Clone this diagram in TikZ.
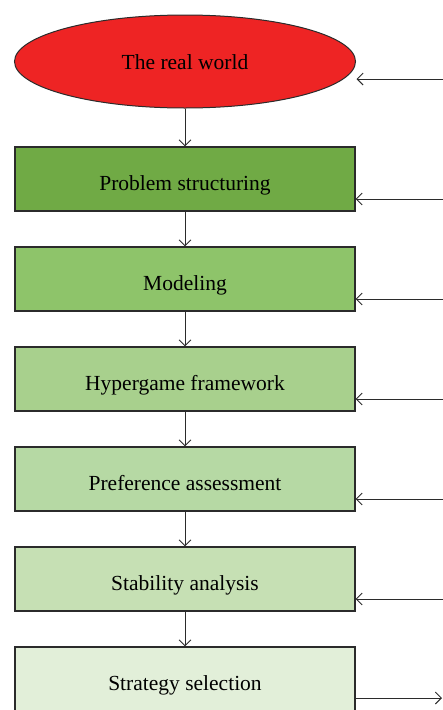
\documentclass[tikz,border=0pt]{standalone}
\usepackage{fontspec}
\setmainfont{Liberation Serif}
\usetikzlibrary{arrows.meta,shapes.geometric}
\definecolor{cred}{HTML}{EE2424}
\definecolor{cA}{HTML}{70AA45}
\definecolor{cB}{HTML}{8EC46A}
\definecolor{cC}{HTML}{A8D08D}
\definecolor{cD}{HTML}{B6D9A4}
\definecolor{cE}{HTML}{C6E0B4}
\definecolor{cF}{HTML}{E2EFD9}
\definecolor{cline}{HTML}{2B2B2B}
\begin{document}
\begin{tikzpicture}[x=1pt,y=-1pt,
  stagebox/.style={draw=cline,line width=1.1pt,minimum width=340pt,minimum height=64pt,inner sep=0pt,font=\fontsize{21.5}{24}\selectfont,text height=37pt,text depth=15pt},
  flow/.style={draw=cline,line width=0.9pt,-{Straight Barb[length=6pt,width=12pt]}}]
\useasboundingbox (0,0) rectangle (443,710);
\node[ellipse,draw=cline,line width=1pt,fill=cred,minimum width=341pt,minimum height=93pt,inner sep=0pt,font=\fontsize{21.5}{24}\selectfont,text height=30pt,text depth=15pt] (w) at (185,61.5) {The real world};
\node[stagebox,fill=cA] (b1) at (185,179) {Problem structuring};
\node[stagebox,fill=cB] (b2) at (185,279) {Modeling};
\node[stagebox,fill=cC] (b3) at (185,379) {Hypergame framework};
\node[stagebox,fill=cD] (b4) at (185,479) {Preference assessment};
\node[stagebox,fill=cE] (b5) at (185,579) {Stability analysis};
\node[stagebox,fill=cF] (b6) at (185,679) {Strategy selection};
\draw[flow] (w.south) -- (b1.north);
\draw[flow] (b1) -- (b2);
\draw[flow] (b2) -- (b3);
\draw[flow] (b3) -- (b4);
\draw[flow] (b4) -- (b5);
\draw[flow] (b5) -- (b6);
\coordinate (r0) at (443,79);
\coordinate (t0) at (356.5,79);
\draw[flow] (r0) -- (t0);
\foreach \i in {1,...,5}{
  \coordinate (r\i) at (443,{100*\i+99});
  \draw[flow] (r\i) -- (b\i.east |- r\i);
}
\coordinate (o6) at (442,698);
\draw[flow] (b6.east |- o6) -- (o6);
\end{tikzpicture}
\end{document}
